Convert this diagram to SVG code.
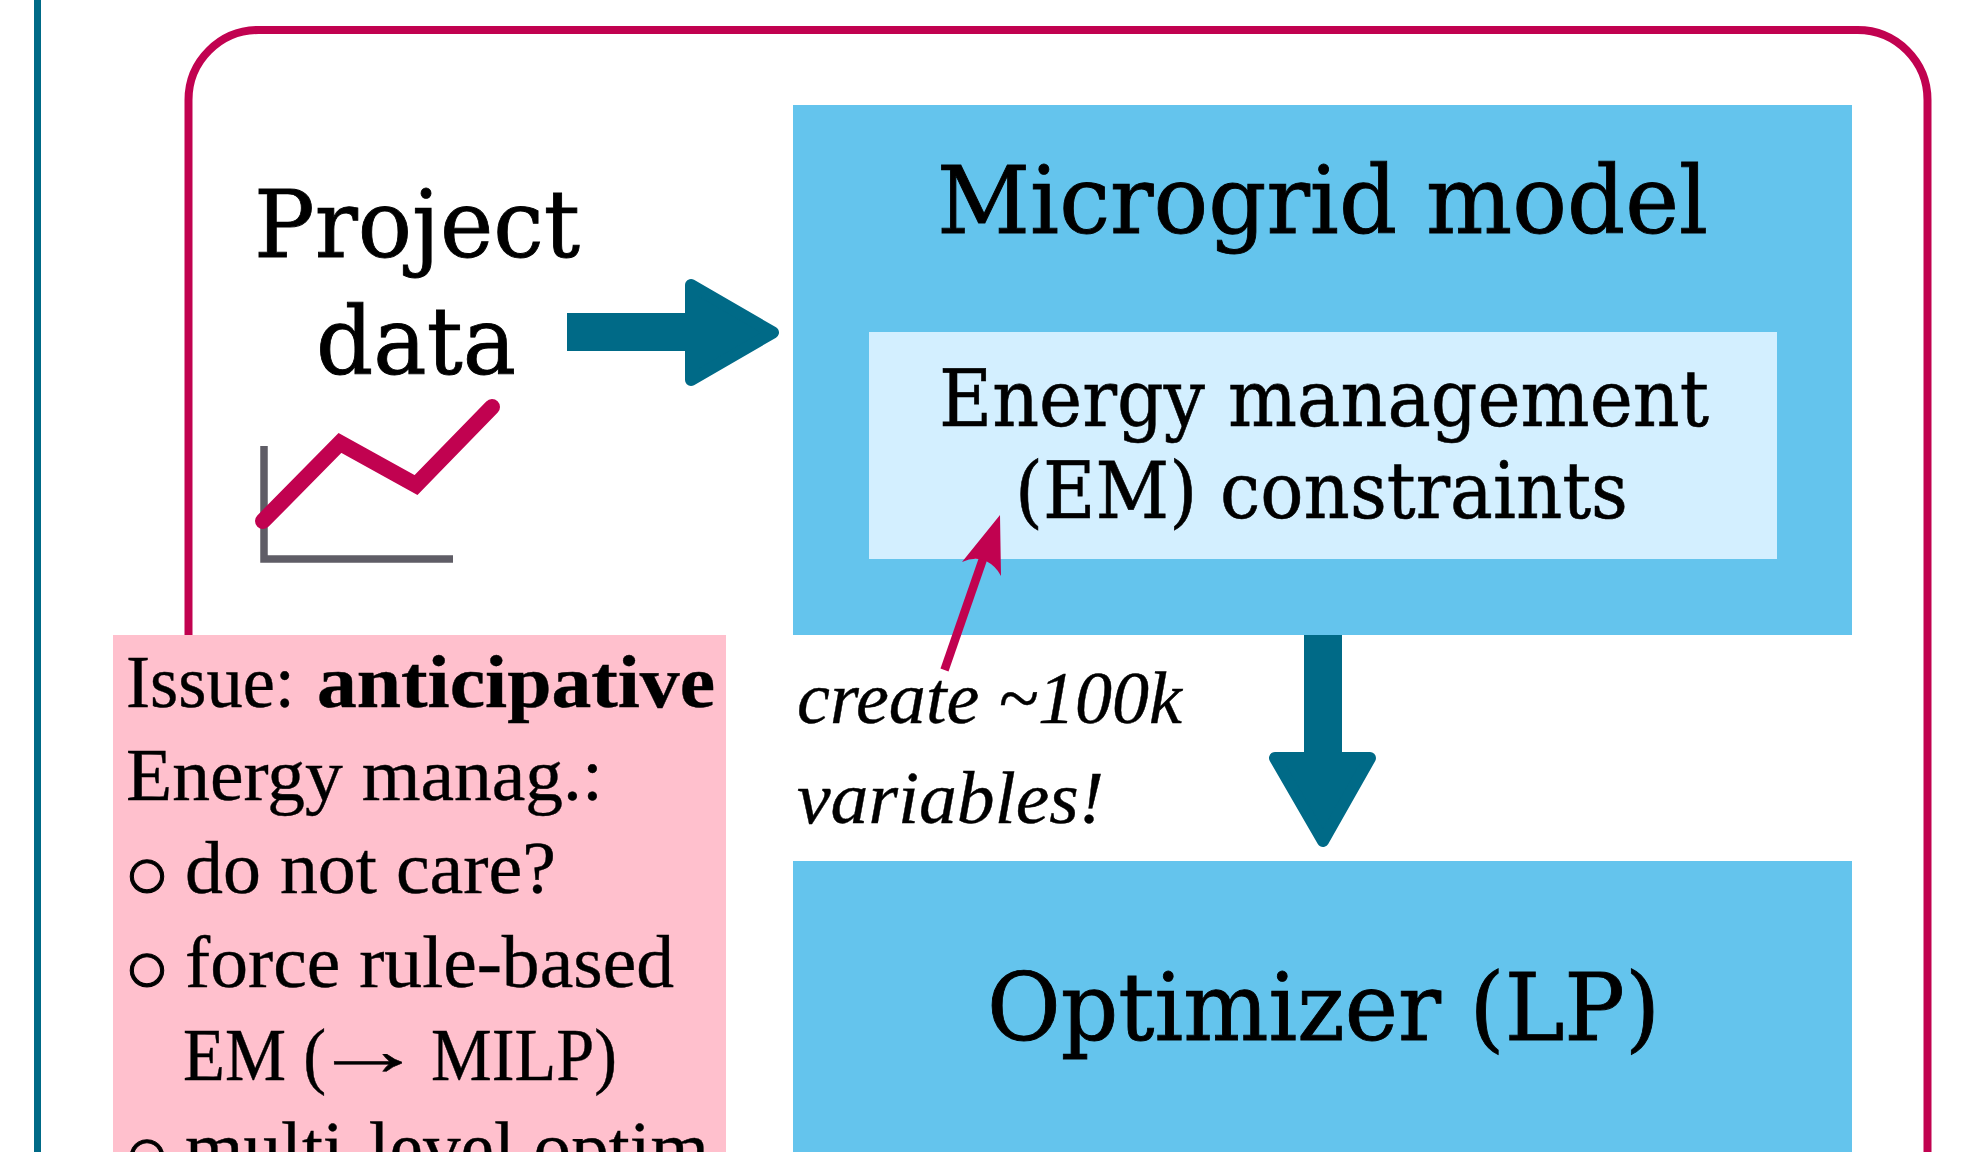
<svg xmlns="http://www.w3.org/2000/svg" width="1978" height="1152" viewBox="0 0 1978 1152">
<style>
.s{font-family:"Liberation Serif",serif;font-size:73px;fill:#000;stroke:#000;stroke-width:.4}
.h{font-family:"DejaVu Serif",serif;fill:#000;font-size:94px;stroke:#000;stroke-width:.9}
.m{font-size:78px;stroke-width:.6}
.i{font-style:italic}
.t{fill:#006a87}
.b{stroke-width:1;font-size:76px}
</style>
<rect width="1978" height="1152" fill="#fff"/>
<rect id="left-rule" x="34" y="-10" width="7" height="1172" fill="#006a87"/>
<g id="frame"><rect x="188.5" y="30" width="1739" height="1200" rx="70" fill="#fff" stroke="#c10250" stroke-width="8"/></g>
<g id="project-data">
<text class="h" x="254" y="257" textLength="326" lengthAdjust="spacingAndGlyphs">Project</text>
<text class="h" x="316" y="374" textLength="200" lengthAdjust="spacingAndGlyphs">data</text>
<path d="M264 446V559H453" fill="none" stroke="#5f5d66" stroke-width="7.5"/>
<path d="M263 521L340 443L416 485L492 407" fill="none" stroke="#c10250" stroke-width="16" stroke-linecap="round"/>
</g>
<g id="microgrid-model">
<rect x="793" y="105" width="1059" height="530" fill="#64c4ed"/>
<text class="h" x="937" y="233" textLength="771" lengthAdjust="spacingAndGlyphs">Microgrid model</text>
</g>
<g id="em-constraints">
<rect x="869" y="332" width="908" height="227" fill="#d3efff"/>
<text class="h m" x="939" y="426" textLength="770" lengthAdjust="spacingAndGlyphs">Energy management</text>
<text class="h m" x="1015" y="518" textLength="613" lengthAdjust="spacingAndGlyphs">(EM) constraints</text>
</g>
<g id="optimizer">
<rect x="793" y="861" width="1059" height="300" fill="#64c4ed"/>
<text class="h" x="987" y="1040" textLength="673" lengthAdjust="spacingAndGlyphs">Optimizer (LP)</text>
</g>
<g id="issue">
<rect x="113" y="635" width="613" height="530" fill="#ffc0cd"/>
<text class="s" x="126" y="706.5" textLength="169" lengthAdjust="spacingAndGlyphs">Issue:</text>
<text class="s" x="317" y="706.5" font-weight="bold" textLength="398" lengthAdjust="spacingAndGlyphs">anticipative</text>
<text class="s" x="126" y="800" textLength="477" lengthAdjust="spacingAndGlyphs">Energy manag.:</text>
<text class="s b" x="124" y="899">○</text>
<text class="s" x="185" y="893" textLength="371" lengthAdjust="spacingAndGlyphs">do not care?</text>
<text class="s b" x="124" y="992.5">○</text>
<text class="s" x="185" y="986.5" textLength="489" lengthAdjust="spacingAndGlyphs">force rule-based</text>
<text class="s" x="183" y="1080" textLength="143" lengthAdjust="spacingAndGlyphs">EM (</text>
<text class="s" x="311" y="1075" textLength="114" lengthAdjust="spacingAndGlyphs">→</text>
<text class="s" x="431" y="1080" textLength="186" lengthAdjust="spacingAndGlyphs">MILP)</text>
<text class="s b" x="124" y="1179">○</text>
<text class="s" x="185" y="1173" textLength="524" lengthAdjust="spacingAndGlyphs">multi-level optim</text>
</g>
<g id="note">
<text class="s i" x="797" y="723" textLength="385" lengthAdjust="spacingAndGlyphs">create ~100k</text>
<text class="s i" x="797" y="823" textLength="307" lengthAdjust="spacingAndGlyphs">variables!</text>
</g>
<g id="connectors">
<g class="t">
<rect x="567" y="313" width="133" height="38"/>
<polygon points="691,285 691,380 773,332.5" stroke="#006a87" stroke-width="12" stroke-linejoin="round"/>
<rect x="1304" y="635" width="38" height="135"/>
<polygon points="1275,758 1370,758 1323,841" stroke="#006a87" stroke-width="12" stroke-linejoin="round"/>
</g>
<path d="M944.5 670L984 556" fill="none" stroke="#c10250" stroke-width="8.5"/>
<path d="M1000 515L962 562Q975 556 986 561Q996 566 1001 576Z" fill="#c10250"/>
</g>
</svg>
